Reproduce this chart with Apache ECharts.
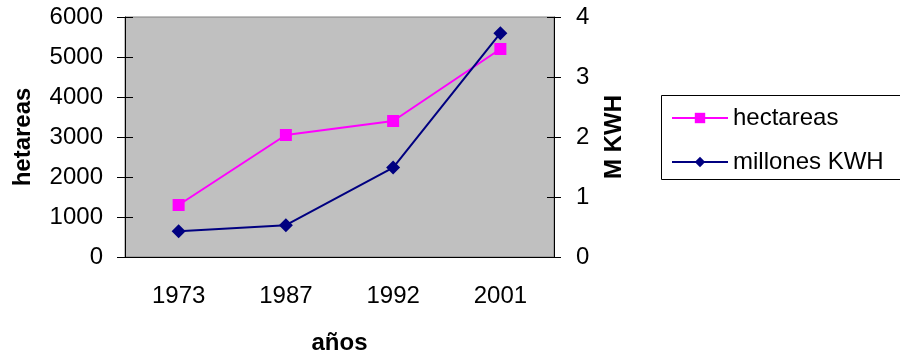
<!DOCTYPE html>
<html>
<head>
<meta charset="utf-8">
<script src="https://cdn.jsdelivr.net/npm/echarts@6/dist/echarts.min.js"></script>
<style>html,body{margin:0;padding:0;background:#fff}#c{width:900px;height:355px}</style>
</head>
<body>
<div id="c"></div>
<script>
var years = ['1973', '1987', '1992', '2001'];
var hectareas = [1300, 3050, 3400, 5200];
var millonesKWH = [0.43, 0.53, 1.49, 3.73];
var leftTicks = [0, 1000, 2000, 3000, 4000, 5000, 6000];
var rightTicks = [0, 1, 2, 3, 4];

var FONT = 'Liberation Sans, Arial, sans-serif';
var chart = echarts.init(document.getElementById('c'), null, {renderer: 'canvas'});
var lbl = {color: '#000', fontFamily: FONT, fontSize: 24};
var ttl = {color: '#000', fontFamily: FONT, fontSize: 24, fontWeight: 'bold'};
var plain = function (v) { return String(v); };

chart.setOption({
  animation: false,
  backgroundColor: '#fff',
  grid: {left: 125, right: 346, top: 17, bottom: 98, outerBoundsMode: 'none', containLabel: false,
         show: true, backgroundColor: '#C0C0C0', borderColor: '#808080', borderWidth: 1},
  graphic: [{type: 'rect', shape: {x: 661.5, y: 95.5, width: 260, height: 84}, style: {fill: '#fff', stroke: '#000', lineWidth: 1}, z: 0}],
  legend: {
    orient: 'vertical', left: 671, top: 106, padding: 0, itemWidth: 56, itemHeight: 13, itemGap: 20,
    textStyle: {color: '#000', fontFamily: FONT, fontSize: 24, padding: [0, 0, 0, 0]},
    data: ['hectareas', 'millones KWH'], z: 5
  },
  xAxis: [
    {type: 'category', data: years, boundaryGap: true,
     axisLine: {lineStyle: {color: '#000', width: 1}}, axisTick: {length: 8, lineStyle: {color: '#000'}},
     axisLabel: Object.assign({margin: 27}, lbl),
     name: 'años', nameLocation: 'middle', nameGap: 74, nameTextStyle: ttl},
    {type: 'category', data: years, position: 'bottom', boundaryGap: true,
     axisLine: {show: false}, axisTick: {inside: true, length: 8, lineStyle: {color: '#000'}}, axisLabel: {show: false}}
  ],
  yAxis: [
    {type: 'value', min: 0, max: 6000, interval: 1000, position: 'left',
     axisLine: {show: true, lineStyle: {color: '#000'}}, axisTick: {show: true, length: 8, lineStyle: {color: '#000'}},
     splitLine: {show: false}, axisLabel: Object.assign({margin: 22, formatter: plain}, lbl),
     name: 'hetareas', nameLocation: 'middle', nameGap: 90, nameTextStyle: ttl},
    {type: 'value', min: 0, max: 4, interval: 1, position: 'right',
     axisLine: {show: true, lineStyle: {color: '#000'}}, axisTick: {show: true, length: 7, lineStyle: {color: '#000'}},
     splitLine: {show: false}, axisLabel: Object.assign({margin: 22, formatter: plain}, lbl),
     name: 'M KWH', nameLocation: 'middle', nameGap: 48, nameRotate: 90, nameTextStyle: ttl},
    {type: 'value', min: 0, max: 6000, interval: 1000, position: 'left',
     axisLine: {show: false}, axisTick: {show: true, inside: true, length: 8, lineStyle: {color: '#000'}},
     splitLine: {show: false}, axisLabel: {show: false}},
    {type: 'value', min: 0, max: 4, interval: 1, position: 'right',
     axisLine: {show: false}, axisTick: {show: true, inside: true, length: 7, lineStyle: {color: '#000'}},
     splitLine: {show: false}, axisLabel: {show: false}}
  ],
  series: [
    {name: 'hectareas', type: 'line', data: hectareas, yAxisIndex: 0, symbol: 'rect', symbolSize: 12,
     lineStyle: {color: '#FF00FF', width: 2}, itemStyle: {color: '#FF00FF'}, z: 3},
    {name: 'millones KWH', type: 'line', data: millonesKWH, yAxisIndex: 1, symbol: 'diamond', symbolSize: 14,
     lineStyle: {color: '#000080', width: 2}, itemStyle: {color: '#000080'}, z: 4}
  ]
});
</script>
</body>
</html>
